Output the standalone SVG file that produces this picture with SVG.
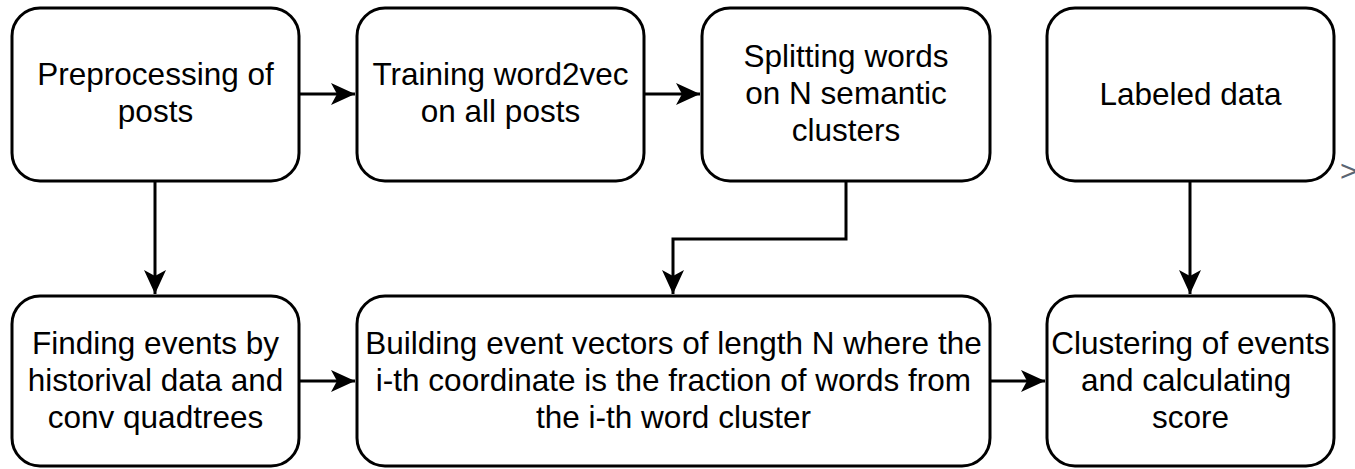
<svg xmlns="http://www.w3.org/2000/svg" width="1355" height="469" viewBox="0 0 1355 469">
<style>
.box{fill:#fff;stroke:#000;stroke-width:3}
.t{font-family:"Liberation Sans",Arial,sans-serif;font-size:31.5px;fill:#000;text-anchor:middle}
.c{fill:none;stroke:#000;stroke-width:3}
</style>
<defs>
<marker id="ah" markerUnits="userSpaceOnUse" markerWidth="28" markerHeight="28" viewBox="0 0 28 28" refX="26" refY="14" orient="auto">
<path d="M2,3 L26,14 L2,25 L8,14 Z" fill="#000"/>
</marker>
</defs>
<rect width="1355" height="469" fill="#fff"/>
<g id="connectors">
<path class="c" d="M299,94 H355" marker-end="url(#ah)"/>
<path class="c" d="M644,94 H700" marker-end="url(#ah)"/>
<path class="c" d="M155,181 V294" marker-end="url(#ah)"/>
<path class="c" d="M846,181 V239 H673 V294" marker-end="url(#ah)"/>
<path class="c" d="M1190,181 V294" marker-end="url(#ah)"/>
<path class="c" d="M299,381 H355" marker-end="url(#ah)"/>
<path class="c" d="M990,381 H1045" marker-end="url(#ah)"/>
</g>
<g id="n1"><rect class="box" x="12" y="8" width="287" height="173" rx="28"/>
<text class="t" x="155.5" y="85">Preprocessing of</text><text class="t" x="155.5" y="122">posts</text></g>
<g id="n2"><rect class="box" x="357" y="8" width="287" height="173" rx="28"/>
<text class="t" x="500.5" y="85">Training word2vec</text><text class="t" x="500.5" y="122">on all posts</text></g>
<g id="n3"><rect class="box" x="702" y="8" width="288" height="173" rx="28"/>
<text class="t" x="846" y="67">Splitting words</text><text class="t" x="846" y="104">on N semantic</text><text class="t" x="846" y="141">clusters</text></g>
<g id="n4"><rect class="box" x="1047" y="8" width="287" height="173" rx="28"/>
<text class="t" x="1190.5" y="105">Labeled data</text></g>
<g id="n5"><rect class="box" x="12" y="296" width="287" height="170" rx="28"/>
<text class="t" x="155.5" y="354">Finding events by</text><text class="t" x="155.5" y="391">historival data and</text><text class="t" x="155.5" y="428">conv quadtrees</text></g>
<g id="n6"><rect class="box" x="357" y="296" width="633" height="170" rx="28"/>
<text class="t" x="673.5" y="354">Building event vectors of length N where the</text><text class="t" x="673.5" y="391">i-th coordinate is the fraction of words from</text><text class="t" x="673.5" y="428">the i-th word cluster</text></g>
<g id="n7"><rect class="box" x="1047" y="296" width="287" height="170" rx="28"/>
<text class="t" x="1190.5" y="354">Clustering of events</text><text class="t" x="1190.5" y="391" xml:space="preserve">and calculating </text><text class="t" x="1190.5" y="428">score</text></g>
<text x="1340" y="181" font-family="Liberation Sans,Arial,sans-serif" font-size="30" fill="#5b6573">&gt;</text>
</svg>
